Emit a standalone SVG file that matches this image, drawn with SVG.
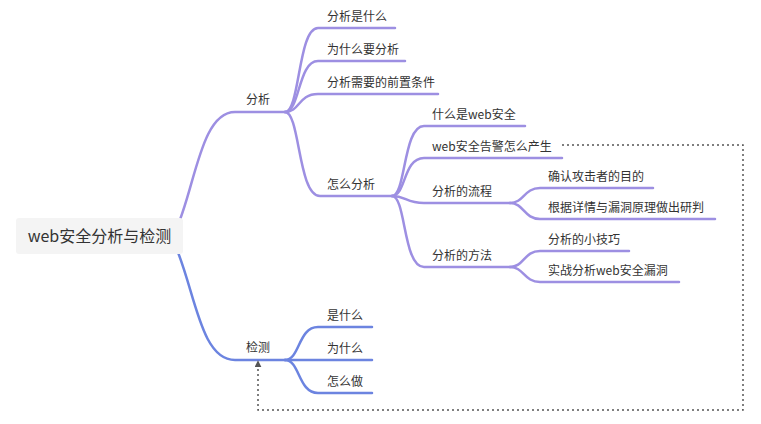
<svg xmlns="http://www.w3.org/2000/svg" width="761" height="424" viewBox="0 0 761 424">
<style>
  .t{font-family:"Noto Sans CJK SC","Noto Sans",sans-serif;font-size:12px;fill:#333}
  .root{font-family:"Noto Sans CJK SC","Noto Sans",sans-serif;font-size:16px;fill:#333}
  .p{fill:none;stroke:#9d8fe2;stroke-width:2.5;stroke-linecap:round}
  .b{fill:none;stroke:#6c84e0;stroke-width:2.5;stroke-linecap:round}
  .dot{fill:none;stroke:#555;stroke-width:1.5;stroke-dasharray:2 3}
</style>
<defs>
  <marker id="arr" viewBox="0 0 10 10" refX="9" refY="5" markerWidth="7" markerHeight="7" markerUnits="userSpaceOnUse" orient="auto">
    <path d="M0,0 L10,5 L0,10 Z" fill="#555"/>
  </marker>
</defs>
<rect width="761" height="424" fill="#fff"/>
<g id="connectors">
  <path class="p" d="M175,232 C195,190 200,112 235,112 L285,112"/>
  <path class="b" d="M175,245 C195,290 200,360 235,360 L285,360"/>
  <path class="p" d="M285,112 C300,112 298,28 318,28 L395,28"/>
  <path class="p" d="M285,112 C300,112 298,61 318,61 L405,61"/>
  <path class="p" d="M285,112 C300,112 298,94 318,94 L438,94"/>
  <path class="p" d="M285,112 C300,112 298,196 320,196 L392,196"/>
  <path class="p" d="M392,196 C406,196 403,126 424,126 L525,126"/>
  <path class="p" d="M392,196 C406,196 403,158 424,158 L562,158"/>
  <path class="p" d="M392,196 C406,196 406,203 424,203 L510,203"/>
  <path class="p" d="M392,196 C406,196 403,267 424,267 L510,267"/>
  <path class="p" d="M510,203 C524,203 524,188 540,188 L653,188"/>
  <path class="p" d="M510,203 C524,203 524,219 540,219 L715,219"/>
  <path class="p" d="M510,267 C524,267 524,251 540,251 L629,251"/>
  <path class="p" d="M510,267 C524,267 524,282 540,282 L679,282"/>
  <path class="b" d="M285,360 C300,360 298,327 318,327 L372,327"/>
  <path class="b" d="M285,360 L372,360"/>
  <path class="b" d="M285,360 C300,360 298,393 318,393 L372,393"/>
  <path class="dot" d="M562,145 L743,145 L743,410 L258,410 L258,361" marker-end="url(#arr)"/>
</g>
<g id="root">
  <rect x="16" y="218" width="167" height="36" rx="3" fill="#f4f4f4"/>
  <text class="root" x="99.5" y="242" text-anchor="middle">web安全分析与检测</text>
</g>
<g id="n-fenxi"><text class="t" x="246" y="104">分析</text></g>
<g id="n-fenxi-shishenme"><text class="t" x="327" y="21">分析是什么</text></g>
<g id="n-weishenme-fenxi"><text class="t" x="327" y="54">为什么要分析</text></g>
<g id="n-qianzhi"><text class="t" x="327" y="87">分析需要的前置条件</text></g>
<g id="n-zenme-fenxi"><text class="t" x="327" y="189">怎么分析</text></g>
<g id="n-web-anquan"><text class="t" x="432" y="119">什么是web安全</text></g>
<g id="n-gaojing"><text class="t" x="432" y="151">web安全告警怎么产生</text></g>
<g id="n-liucheng"><text class="t" x="432" y="196">分析的流程</text></g>
<g id="n-mudi"><text class="t" x="548" y="181">确认攻击者的目的</text></g>
<g id="n-yanpan"><text class="t" x="548" y="212">根据详情与漏洞原理做出研判</text></g>
<g id="n-fangfa"><text class="t" x="432" y="260">分析的方法</text></g>
<g id="n-jiqiao"><text class="t" x="548" y="244">分析的小技巧</text></g>
<g id="n-shizhan"><text class="t" x="548" y="275">实战分析web安全漏洞</text></g>
<g id="n-jiance"><text class="t" x="246" y="352">检测</text></g>
<g id="n-shishenme"><text class="t" x="327" y="320">是什么</text></g>
<g id="n-weishenme"><text class="t" x="327" y="353">为什么</text></g>
<g id="n-zenmezuo"><text class="t" x="327" y="386">怎么做</text></g>
</svg>
